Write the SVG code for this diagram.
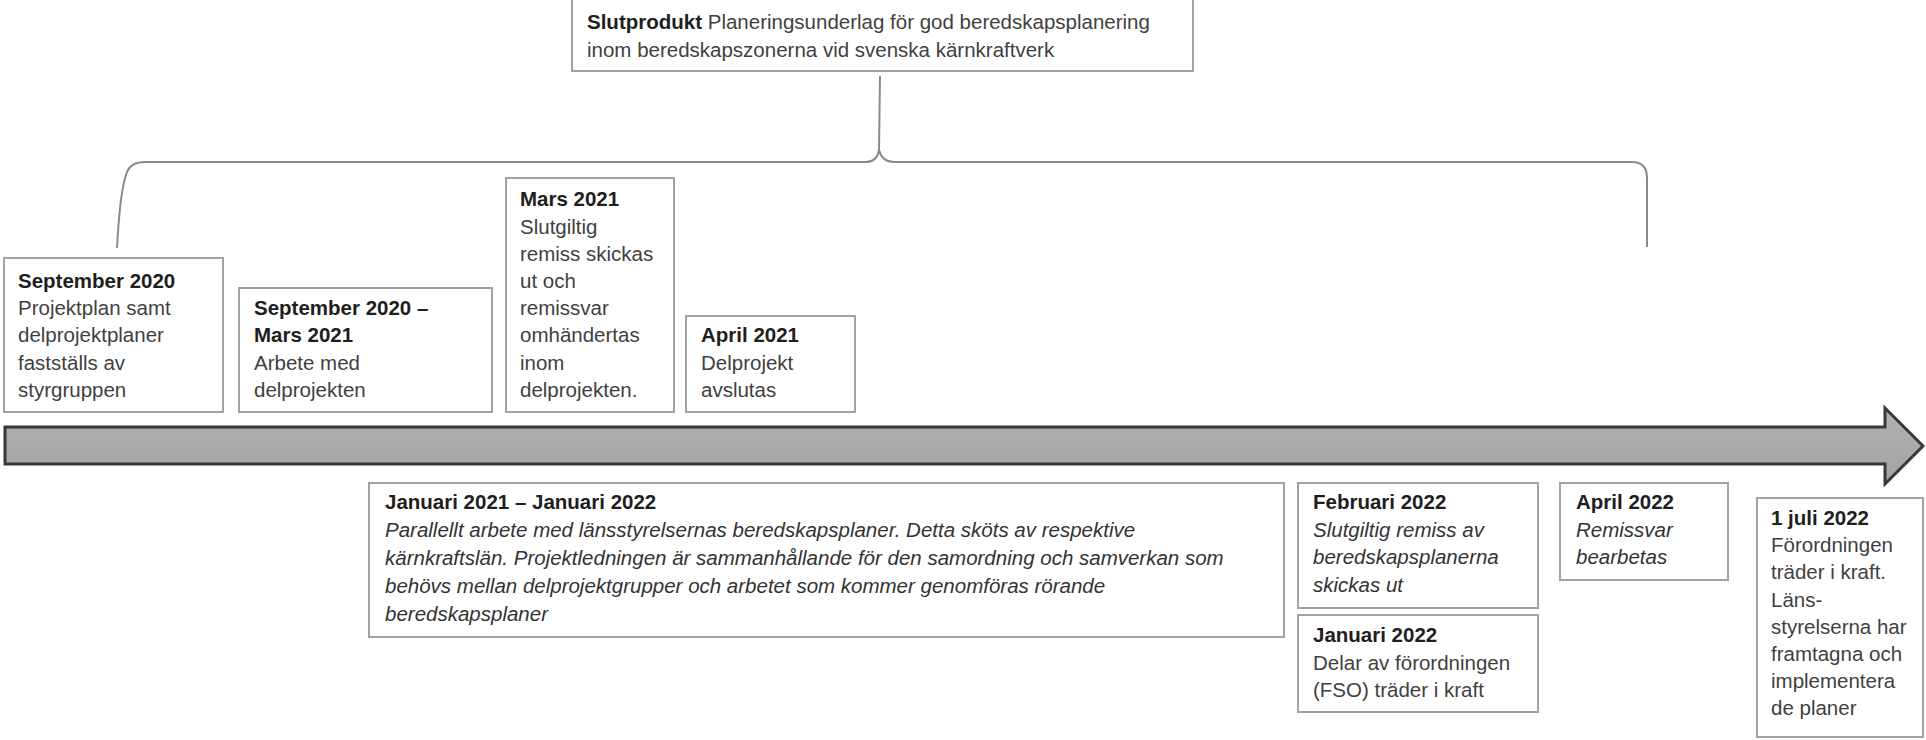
<svg xmlns="http://www.w3.org/2000/svg" width="1926" height="740" viewBox="0 0 1926 740">
<defs>
<style>
.box{fill:#ffffff;stroke:#a3a3a3;stroke-width:2}
text{font-family:"Liberation Sans",Arial,sans-serif;font-size:20.5px}
.t{font-weight:bold;fill:#1e1e1e}
.b{fill:#3f3f3f}
.i{fill:#333333;font-style:italic}
.brace{fill:none;stroke:#8a8a8a;stroke-width:2}
</style>
<linearGradient id="shaft" x1="0" y1="0" x2="0" y2="1">
<stop offset="0" stop-color="#b3b1b2"/>
<stop offset="1" stop-color="#a4a2a3"/>
</linearGradient>
</defs>
<rect width="1926" height="740" fill="#ffffff"/>

<g id="connectors">
<path class="brace" d="M117,248 C119,210 123,182 127,172 Q131,162 145,162 L866,162 Q877,162 879,150 L880,76"/>
<path class="brace" d="M879,150 Q882,162 894,162 L1632,162 Q1647,162 1647,178 L1647,247"/>
</g>

<g id="timeline">
<polygon points="5,427 1885,427 1885,408 1923,446 1885,484 1885,464 5,464" fill="url(#shaft)" stroke="#383838" stroke-width="3" stroke-linejoin="miter"/>
</g>

<g id="slutprodukt">
<rect class="box" x="572" y="-4" width="621" height="75"/>
<text x="587" y="29"><tspan class="t">Slutprodukt</tspan><tspan class="b"> Planeringsunderlag för god beredskapsplanering</tspan></text>
<text class="b" x="587" y="57">inom beredskapszonerna vid svenska kärnkraftverk</text>
</g>

<g id="sep2020">
<rect class="box" x="4" y="258" width="219" height="154"/>
<text class="t" x="18" y="288">September 2020</text>
<text class="b" x="18" y="315.2">Projektplan samt</text>
<text class="b" x="18" y="342.4">delprojektplaner</text>
<text class="b" x="18" y="369.6">fastställs av</text>
<text class="b" x="18" y="396.8">styrgruppen</text>
</g>

<g id="sep2020-mar2021">
<rect class="box" x="239" y="288" width="253" height="124"/>
<text class="t" x="254" y="315.2">September 2020 –</text>
<text class="t" x="254" y="342.4">Mars 2021</text>
<text class="b" x="254" y="369.6">Arbete med</text>
<text class="b" x="254" y="396.8">delprojekten</text>
</g>

<g id="mar2021">
<rect class="box" x="506" y="178" width="168" height="234"/>
<text class="t" x="520" y="206.4">Mars 2021</text>
<text class="b" x="520" y="233.6">Slutgiltig</text>
<text class="b" x="520" y="260.8">remiss skickas</text>
<text class="b" x="520" y="288">ut och</text>
<text class="b" x="520" y="315.2">remissvar</text>
<text class="b" x="520" y="342.4">omhändertas</text>
<text class="b" x="520" y="369.6">inom</text>
<text class="b" x="520" y="396.8">delprojekten.</text>
</g>

<g id="apr2021">
<rect class="box" x="686" y="316" width="169" height="96"/>
<text class="t" x="701" y="342.4">April 2021</text>
<text class="b" x="701" y="369.6">Delprojekt</text>
<text class="b" x="701" y="396.8">avslutas</text>
</g>

<g id="jan2021-jan2022">
<rect class="box" x="369" y="483" width="915" height="154"/>
<text class="t" x="385" y="509">Januari 2021 – Januari 2022</text>
<text class="i" x="385" y="537">Parallellt arbete med länsstyrelsernas beredskapsplaner. Detta sköts av respektive</text>
<text class="i" x="385" y="565">kärnkraftslän. Projektledningen är sammanhållande för den samordning och samverkan som</text>
<text class="i" x="385" y="593">behövs mellan delprojektgrupper och arbetet som kommer genomföras rörande</text>
<text class="i" x="385" y="621">beredskapsplaner</text>
</g>

<g id="feb2022">
<rect class="box" x="1298" y="483" width="240" height="125"/>
<text class="t" x="1313" y="509">Februari 2022</text>
<text class="i" x="1313" y="536.5">Slutgiltig remiss av</text>
<text class="i" x="1313" y="564">beredskapsplanerna</text>
<text class="i" x="1313" y="591.5">skickas ut</text>
</g>

<g id="jan2022">
<rect class="box" x="1298" y="615" width="240" height="97"/>
<text class="t" x="1313" y="642">Januari 2022</text>
<text class="b" x="1313" y="669.5">Delar av förordningen</text>
<text class="b" x="1313" y="697">(FSO) träder i kraft</text>
</g>

<g id="apr2022">
<rect class="box" x="1560" y="483" width="168" height="97"/>
<text class="t" x="1576" y="509">April 2022</text>
<text class="i" x="1576" y="536.5">Remissvar</text>
<text class="i" x="1576" y="564">bearbetas</text>
</g>

<g id="jul2022">
<rect class="box" x="1757" y="498" width="166" height="239"/>
<text class="t" x="1771" y="525">1 juli 2022</text>
<text class="b" x="1771" y="552.2">Förordningen</text>
<text class="b" x="1771" y="579.4">träder i kraft.</text>
<text class="b" x="1771" y="606.6">Läns-</text>
<text class="b" x="1771" y="633.8">styrelserna har</text>
<text class="b" x="1771" y="661">framtagna och</text>
<text class="b" x="1771" y="688.2">implementera</text>
<text class="b" x="1771" y="715.4">de planer</text>
</g>
</svg>
